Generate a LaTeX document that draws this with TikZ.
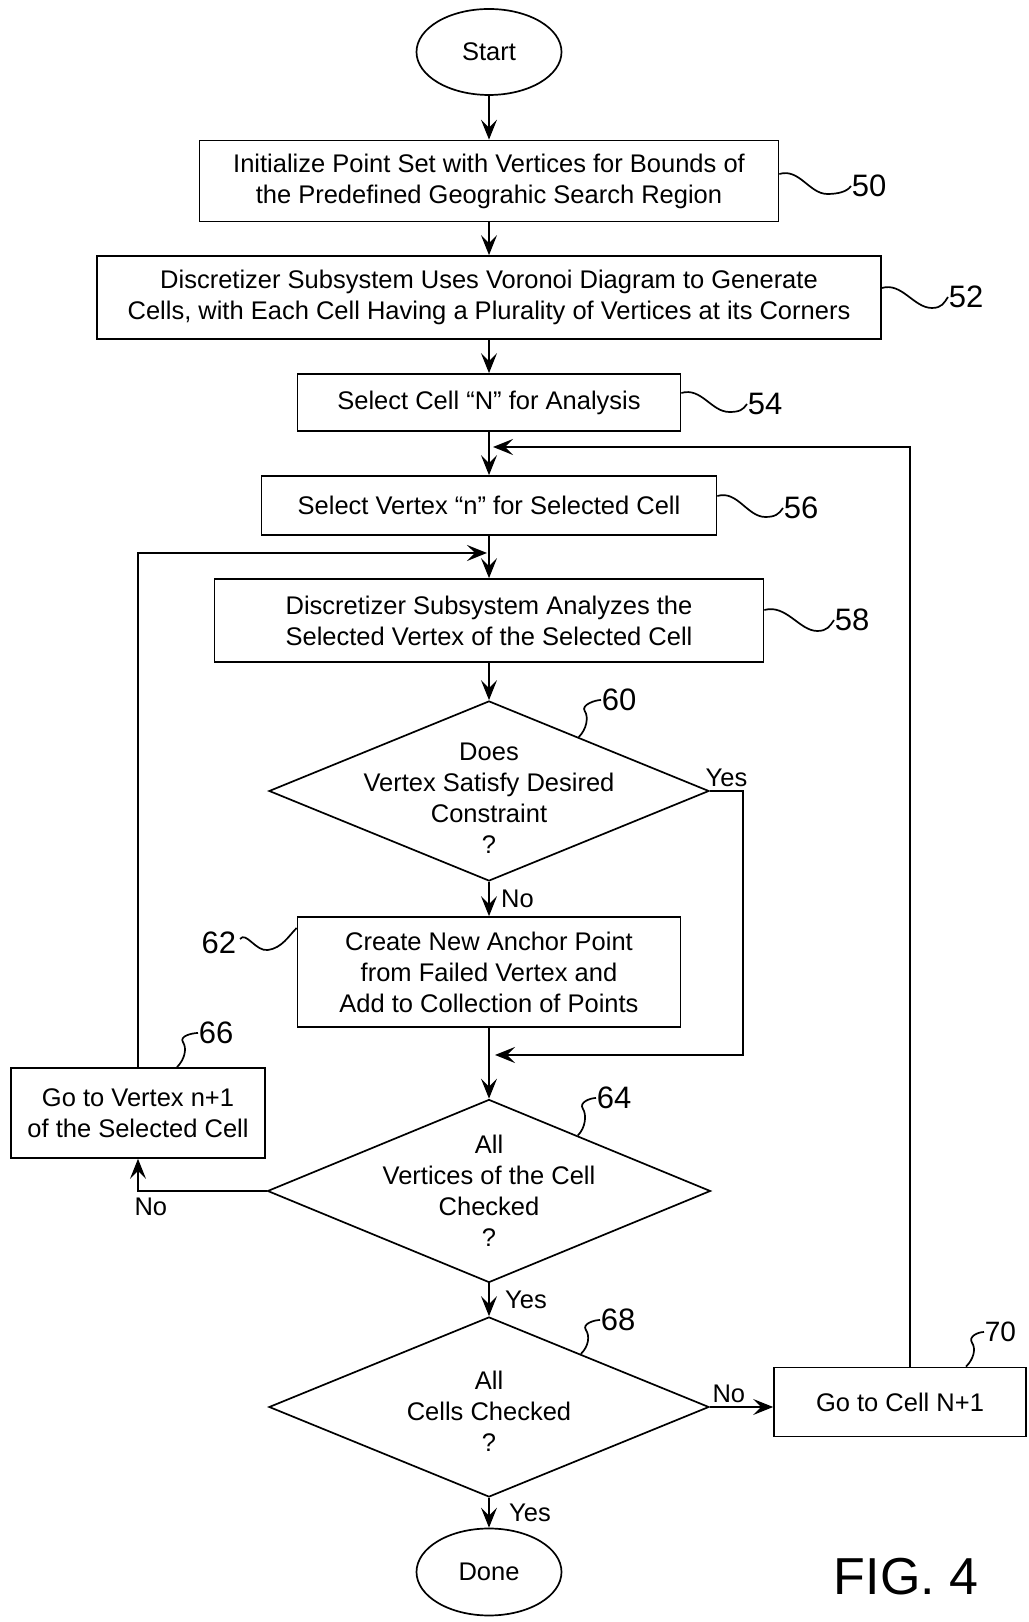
\documentclass[tikz,border=0pt]{standalone}
\usepackage{fontspec}
\setmainfont{Liberation Sans}
\usetikzlibrary{shapes.geometric,arrows.meta}

\begin{document}
\begin{tikzpicture}[x=1pt,y=1pt,line width=1.7pt,
  >={Stealth[length=20pt,width=16pt,inset=8pt]},
  box/.style={draw,rectangle,align=center,inner sep=0pt,font=\fontsize{25.5}{31}\selectfont},
  term/.style={draw,ellipse,minimum width=145pt,minimum height=86pt,inner sep=0pt,font=\fontsize{25.5}{31}\selectfont},
  decision/.style={draw,diamond,minimum width=440pt,minimum height=180pt,inner sep=0pt},
  dtext/.style={align=center,font=\fontsize{25.5}{31}\selectfont},
  num/.style={anchor=west,inner sep=0pt,font=\fontsize{31}{31}\selectfont},
  yn/.style={font=\fontsize{25.5}{31}\selectfont}]
\useasboundingbox (0,0) rectangle (1028,1622);

%main column
\node [term] (start) at (489,1570) {Start};
\node [box,minimum width=579pt,minimum height=81pt] (b50) at (489,1441) {Initialize Point Set with Vertices for Bounds of\\the Predefined Geograhic Search Region};
\node [box,minimum width=784pt,minimum height=83pt] (b52) at (489,1324.5) {Discretizer Subsystem Uses Voronoi Diagram to Generate\\Cells, with Each Cell Having a Plurality of Vertices at its Corners};
\node [box,minimum width=383pt,minimum height=57pt] (b54) at (489,1219.5) {Select Cell “N” for Analysis};
\node [box,minimum width=455pt,minimum height=59pt] (b56) at (489,1116.5) {Select Vertex “n” for Selected Cell};
\node [box,minimum width=549pt,minimum height=83pt] (b58) at (489,1001.5) {Discretizer Subsystem Analyzes the\\Selected Vertex of the Selected Cell};
\node [decision,label={[dtext,yshift=-7pt]center:{Does\\Vertex Satisfy Desired\\Constraint\\?}}] (d60) at (489,831) {};
\node [box,minimum width=383pt,minimum height=110pt] (b62) at (489,650) {Create New Anchor Point\\from Failed Vertex and\\Add to Collection of Points};
\node [decision,minimum width=443pt,minimum height=183pt,label={[dtext]center:{All\\Vertices of the Cell\\Checked\\?}}] (d64) at (489,431) {};
\node [decision,label={[dtext,yshift=-4pt]center:{All\\Cells Checked\\?}}] (d68) at (489,215) {};
\node [term,minimum height=87pt] (done) at (489,50) {Done};

%side boxes
\node [box,minimum width=254pt,minimum height=90pt] (b66) at (138,509) {Go to Vertex n+1\\of the Selected Cell};
\node [box,minimum width=252pt,minimum height=69pt] (b70) at (900,220) {Go to Cell N+1};

\coordinate (j1) at (493,1175);
\coordinate (r70) at (910,1175);
\coordinate (j2) at (487,1069);
\coordinate (j3) at (495,567);
\coordinate (y60) at (743,831);

\draw[->] (start) -- (b50);
\draw[->] (b50) -- (b52);
\draw[->] (b52) -- (b54);
\draw[->] (b54) -- (b56);
\draw[->] (b56) -- (b58);
\draw[->] (b58) -- (d60);
\draw[->] (d60) -- node[yn,right,xshift=8pt]{No} (b62);
\draw[->] (b62) -- (d64);
\draw[->] (d64) -- node[yn,right,xshift=12pt]{Yes} (d68);
\draw[->] (d68) -- node[yn,right,xshift=16pt]{Yes} (done);

\draw[->] (d60.east) -- node[yn,above]{Yes} (y60) |- (j3);
\draw[->] (d64.west) -| node[yn,pos=0.45,below,yshift=-3pt]{No} (b66.south);
\draw[->] (b66) |- (j2);
\draw[->] (d68.east) -- node[yn,pos=0.3,above]{No} (d68.east -| b70.west);
\draw[->] (b70.north -| r70) -- (r70) -- (j1);

%reference numerals
\node [num] (l50) at (851,1436) {50};
\node [num] (l52) at (948,1325) {52};
\node [num] (l54) at (747,1218) {54};
\node [num] (l56) at (783,1114) {56};
\node [num] (l58) at (834,1002) {58};
\node [num] (l60) at (601,922) {60};
\node [num,anchor=east] (l62) at (237,679) {62};
\node [num] (l64) at (596,524) {64};
\node [num] (l66) at (198,589) {66};
\node [num] (l68) at (600,302) {68};
\node [num,font=\fontsize{28}{28}\selectfont] (l70) at (984,290) {70};

\draw ([yshift=7pt]b50.east) .. controls +(20,6) and +(-18,0) .. +(48,-20) .. controls +(10,0) and +(-4,-6) .. (l50.west);
\draw ([yshift=9.5pt]b52.east) .. controls +(20,6) and +(-18,0) .. +(50,-20) .. controls +(10,0) and +(-4,-6) .. (l52.west);
\draw ([yshift=9.5pt]b54.east) .. controls +(20,6) and +(-18,0) .. +(48,-19) .. controls +(10,0) and +(-4,-6) .. (l54.west);
\draw ([yshift=9.5pt]b56.east) .. controls +(20,6) and +(-18,0) .. +(48,-21) .. controls +(10,0) and +(-4,-6) .. (l56.west);
\draw ([yshift=10.5pt]b58.east) .. controls +(22,6) and +(-18,0) .. +(53,-21) .. controls +(10,0) and +(-4,-6) .. (l58.west);
\draw ([shift={(3,4)}]l62.east) .. controls +(6,8) and +(-12,-2) .. +(28,-11) .. controls +(14,2) and +(-8,-8) .. ([yshift=44pt]b62.west);

\draw (d60.31) .. controls +(8,8) and +(4,-6) .. +(6,26) .. controls +(-4,6) and +(-6,0) .. (l60.west);
\draw (d64.32) .. controls +(8,8) and +(4,-6) .. +(5,27) .. controls +(-4,6) and +(-6,0) .. (l64.west);
\draw (d68.30) .. controls +(8,8) and +(4,-6) .. +(5,24) .. controls +(-4,6) and +(-6,0) .. (l68.west);
\draw ([xshift=39pt]b66.north) .. controls +(8,8) and +(4,-6) .. +(6,25) .. controls +(-4,6) and +(-6,0) .. (l66.west);
\draw ([xshift=66pt]b70.north) .. controls +(8,8) and +(4,-6) .. +(6,24) .. controls +(-4,6) and +(-6,0) .. (l70.west);

\node [font=\fontsize{52}{52}\selectfont] (fig) at (906,45) {FIG. 4};
\end{tikzpicture}
\end{document}
